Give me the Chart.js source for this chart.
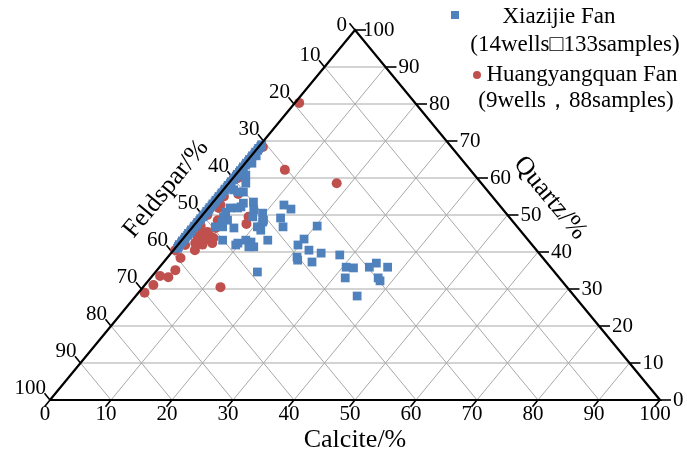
<!DOCTYPE html>
<html>
<head>
<meta charset="utf-8">
<script src="https://cdn.jsdelivr.net/npm/chart.js@4.4.1/dist/chart.umd.min.js"></script>
<style>
  body { margin: 0; background: #fff; }
  #caixa { width: 687px; height: 456px; }
</style>
</head>
<body>
<div id="caixa"><canvas id="grafico"></canvas></div>
<script>
// valores ternarios em %, feldspato = 100 - quartzo - calcita
const marcas = [0, 10, 20, 30, 40, 50, 60, 70, 80, 90, 100];

const nomeXiazijie = ["Xiazijie Fan", "(14wells\u25A1133samples)"];
const nomeHuangyang = ["Huangyangquan Fan", "(9wells\uFF0C88samples)"];

// amostras quase sem calcita, coladas no lado esquerdo
const xiazijieBordaQuartzo = [
  69, 68.5, 68, 67.5, 67, 66.5, 66, 65.5, 65, 64.5, 64, 63.5, 63, 62.5, 62, 61.5,
  61, 60.5, 60, 59.5, 59, 58.5, 58, 57.5, 57, 56.5, 56, 55.5, 55, 54.5, 54, 53.5,
  53, 52.5, 52, 51.5, 51, 50.5, 50, 49.5, 49, 48.5, 48, 47.5, 47, 46.5, 46, 45.5,
  45, 44.5, 44, 43.5, 43, 42.5, 42, 41.5, 41
];
const xiazijieBordaCalcita = [
  0.2, 0.3, 0.2, 0.3, 0.2, 0.3, 0.2, 0.3, 0.2, 0.3, 0.2, 0.3, 0.2, 0.3, 0.2, 0.3,
  0.2, 0.3, 0.2, 0.3, 0.2, 0.3, 0.2, 0.3, 0.2, 0.3, 0.2, 0.3, 0.2, 0.3, 0.2, 0.3,
  0.2, 0.3, 0.2, 0.3, 0.2, 0.3, 0.2, 0.3, 0.2, 0.3, 0.2, 0.3, 0.2, 0.3, 0.2, 0.3,
  0.2, 0.3, 0.2, 0.3, 0.2, 0.3, 0.2, 0.3, 0.4
];

const xiazijieQuartzo = [
  66, 64, 60.8, 58.6, 56.8, 56.2, 56.2, 53.2, 52.2, 51.9, 51.9, 50.8, 49.5, 48.6,
  48.1, 46.8, 46.8, 46.5, 53.5, 51.4, 49.5, 50.5, 48.1, 48.6, 46.8, 45.9, 43.2,
  43.2, 42.7, 42.4, 41.9, 41.4, 41.4, 43.2, 52.7, 51.6, 49.2, 46.8, 34.6, 47.0,
  43.5, 41.9, 40.5, 39.7, 38.6, 37.8, 37.3, 39.2, 35.9, 35.7, 35.9, 37.0, 35.9,
  33.0, 33.0, 32.2, 28.1
];
const xiazijieCalcita = [
  0.8, 1.1, 1.7, 2.8, 1.7, 3.6, 2.8, 5.1, 5.2, 3.6, 4.8, 3.4, 3.7, 4.8,
  4.2, 4.9, 3.7, 6.9, 6.6, 7.7, 8.5, 9.6, 10.8, 10.7, 10.6, 11.6, 14.1,
  10.5, 11.6, 9.6, 9.5, 12.7, 11.9, 6.7, 12.0, 13.7, 13.2, 14.8, 16.7, 20.3,
  19.9, 19.7, 22.2, 24.6, 21.2, 21.7, 24.3, 27.9, 30.6, 31.9, 34.4, 35.0, 37.4,
  31.9, 37.3, 38.0, 36.3
];

const huangyangQuartzo = [
  80.3, 68.4, 62.2, 58.6, 55.7, 52.7, 51.9, 49.5, 48.6, 47.6, 46.5, 45.4, 44.3,
  43.8, 44.1, 43.8, 43.0, 42.4, 42.4, 41.9, 40.5, 40.5, 38.4, 35.1, 33.2, 33.5,
  31.1, 29.0, 30.5, 60, 55, 50, 47, 45.0, 42.0
];
const huangyangCalcita = [
  0.7, 0.7, 7.4, 17.7, 3.0, 1.6, 1.7, 7.8, 3.2, 8.4, 3.9, 3.1, 2.5,
  2.3, 4.3, 4.9, 3.7, 2.6, 5.4, 1.2, 3.5, 0.3, 2.2, 3.0, 2.8, 1.3,
  1.4, 1.0, 12.7, 0.8, 1.0, 0.8, 1.2, 2.0, 4.0
];

const azul = "#4F81BD";
const vermelho = "#C0504D";
const fonte = "'Liberation Serif', 'Times New Roman', serif";

// quartzo no topo, feldspato em baixo a esquerda, calcita em baixo a direita
function ponto(q, c) {
  return { x: c + q / 2, y: q };
}

function linha(dados, cor, largura) {
  return {
    data: dados, showLine: true, pointRadius: 0, borderColor: cor,
    borderWidth: largura, clip: false, fill: false
  };
}

const conjuntos = [];

// contorno por cima das amostras
conjuntos.push(linha([ponto(0, 0), ponto(0, 100), ponto(100, 0), ponto(0, 0)], "#000", 2.2));

const azulDados = xiazijieBordaQuartzo.map((q, i) => ponto(q, xiazijieBordaCalcita[i]))
  .concat(xiazijieQuartzo.map((q, i) => ponto(q, xiazijieCalcita[i])));

conjuntos.push({
  data: azulDados,
  pointStyle: "rect", pointRadius: 6.2, backgroundColor: azul,
  borderColor: azul, borderWidth: 0, clip: false
});
conjuntos.push({
  data: huangyangQuartzo.map((q, i) => ponto(q, huangyangCalcita[i])),
  pointStyle: "circle", pointRadius: 5, backgroundColor: vermelho,
  borderColor: vermelho, borderWidth: 0, clip: false
});

// grade
const internas = marcas.filter(v => v > 0 && v < 100);
internas.forEach(v => {
  conjuntos.push(linha([ponto(v, 0), ponto(v, 100 - v)], "#a8a8a8", 1));
  conjuntos.push(linha([ponto(0, v), ponto(100 - v, v)], "#a8a8a8", 1));
  conjuntos.push(linha([ponto(100 - v, 0), ponto(0, 100 - v)], "#a8a8a8", 1));
});

// tracinhos dos eixos
const t = 1.8;
marcas.forEach(v => {
  conjuntos.push(linha([{ x: v, y: 0 }, { x: v - t / 2, y: -t }], "#000", 1.6));
  const d = ponto(v, 100 - v);
  conjuntos.push(linha([d, { x: d.x + t, y: d.y }], "#000", 1.6));
  const e = ponto(100 - v, 0);
  conjuntos.push(linha([e, { x: e.x - t / 2, y: e.y + t }], "#000", 1.6));
});

const textos = {
  id: "textos",
  afterDraw(chart) {
    const ctx = chart.ctx;
    const sx = chart.scales.x, sy = chart.scales.y;
    const px = p => [sx.getPixelForValue(p.x), sy.getPixelForValue(p.y)];
    ctx.save();
    ctx.fillStyle = "#000";
    ctx.font = "21px " + fonte;

    marcas.forEach(v => {
      // calcita
      let [x, y] = px({ x: v, y: 0 });
      ctx.textAlign = "center";
      ctx.textBaseline = "top";
      ctx.fillText(String(v), x - 5, y + 4);
      // quartzo
      [x, y] = px(ponto(v, 100 - v));
      ctx.textAlign = "left";
      ctx.textBaseline = "middle";
      ctx.fillText(String(v), v === 100 ? x + 8 : x + 13, y);
      // feldspato
      [x, y] = px(ponto(100 - v, 0));
      ctx.textAlign = "right";
      ctx.textBaseline = "alphabetic";
      ctx.fillText(String(v), v === 0 ? x - 8 : x - 4, v === 0 ? y + 1 : y - 6);
    });

    ctx.font = "26px " + fonte;
    ctx.textAlign = "center";
    ctx.textBaseline = "middle";
    ctx.fillText("Calcite/%", 355, 440);

    const ang = Math.atan2(sy.getPixelForValue(0) - sy.getPixelForValue(100),
      sx.getPixelForValue(50) - sx.getPixelForValue(0));
    ctx.save();
    ctx.translate(166, 189);
    ctx.rotate(-ang);
    ctx.fillText("Feldspar/%", 0, 0);
    ctx.restore();
    ctx.save();
    ctx.translate(550, 198);
    ctx.rotate(ang);
    ctx.fillText("Quartz/%", 0, 0);
    ctx.restore();

    // legenda
    ctx.font = "23px " + fonte;
    ctx.fillStyle = azul;
    ctx.fillRect(451, 11, 8, 8);
    ctx.fillStyle = vermelho;
    ctx.beginPath();
    ctx.arc(477, 75, 4, 0, Math.PI * 2);
    ctx.fill();
    ctx.fillStyle = "#000";
    ctx.fillText(nomeXiazijie[0], 559, 17);
    ctx.fillText(nomeXiazijie[1], 575, 45);
    ctx.fillText(nomeHuangyang[0], 582, 75);
    ctx.fillText(nomeHuangyang[1], 576, 101);
    ctx.restore();
  }
};

new Chart(document.getElementById("grafico"), {
  type: "scatter",
  data: { datasets: conjuntos },
  options: {
    responsive: true,
    maintainAspectRatio: false,
    animation: false,
    events: [],
    layout: { padding: { left: 50, right: 27, top: 30, bottom: 56 } },
    scales: {
      x: { type: "linear", min: 0, max: 100, display: false },
      y: { type: "linear", min: 0, max: 100, display: false }
    },
    plugins: { legend: { display: false }, tooltip: { enabled: false } }
  },
  plugins: [textos]
});
</script>
</body>
</html>
